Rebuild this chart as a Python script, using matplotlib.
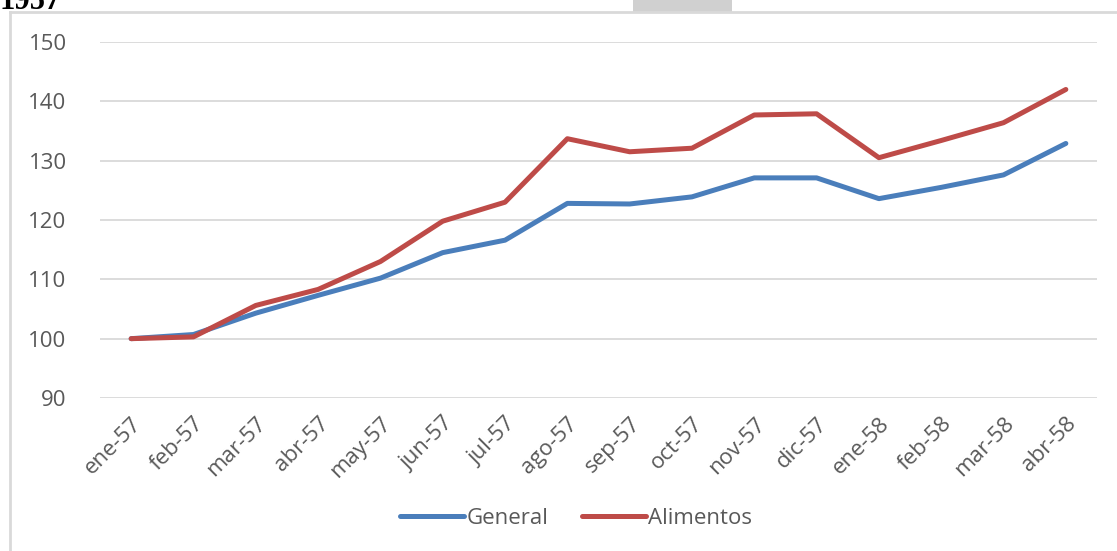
import matplotlib
matplotlib.use("Agg")
import matplotlib.pyplot as plt
from matplotlib.patches import Rectangle
from matplotlib.lines import Line2D

categories = ["ene-57", "feb-57", "mar-57", "abr-57", "may-57", "jun-57", "jul-57", "ago-57",
              "sep-57", "oct-57", "nov-57", "dic-57", "ene-58", "feb-58", "mar-58", "abr-58"]
general = [100.0, 100.7, 104.3, 107.3, 110.2, 114.5, 116.6, 122.8,
           122.7, 123.9, 127.1, 127.1, 123.6, 125.5, 127.6, 132.9]
alimentos = [100.0, 100.3, 105.6, 108.3, 113.0, 119.8, 123.0, 133.7,
             131.5, 132.1, 137.7, 137.9, 130.5, 133.4, 136.4, 142.0]
yticks = [90, 100, 110, 120, 130, 140, 150]

W, H = 1117, 551
fig = plt.figure(figsize=(W / 100, H / 100), dpi=100)
font = ["Open Sans", "DejaVu Sans"]

# outer chart frame
fig.add_artist(Line2D([10 / W, 1.0], [1 - 12 / H, 1 - 12 / H], transform=fig.transFigure,
                      color="#D9D9D9", lw=2))
fig.add_artist(Line2D([10 / W, 10 / W], [0, 1 - 12 / H], transform=fig.transFigure,
                      color="#D9D9D9", lw=2))
fig.add_artist(Rectangle((633 / W, 1 - 12 / H), 99 / W, 12 / H, transform=fig.transFigure,
                         facecolor="#D0D0D0", edgecolor="none"))
fig.text(0 / W, 1 - 9 / H, "1957", family="Liberation Serif", weight="bold", fontsize=22,
         color="black", va="baseline", ha="left")

ax = fig.add_axes([100 / W, 1 - 398 / H, 997 / W, 356 / H])
x = list(range(len(categories)))
ax.plot(x, general, color="#4A7EBB", lw=3.6, solid_capstyle="round", label="General")
ax.plot(x, alimentos, color="#BE4B48", lw=3.6, solid_capstyle="round", label="Alimentos")

ax.set_xlim(-0.5, len(categories) - 0.5)
ax.set_ylim(90, 150)
ax.set_yticks(yticks)
ax.set_yticklabels([str(v) for v in yticks], family=font, fontsize=16, color="#595959")
ax.set_xticks(x)
ax.set_xticklabels(categories, rotation=45, ha="right", rotation_mode="anchor",
                   family=font, fontsize=16, color="#595959")
ax.tick_params(axis="x", length=0, pad=11)
ax.tick_params(axis="y", length=0, pad=24)
ax.grid(axis="y", color="#D9D9D9", lw=1.3)
ax.set_axisbelow(True)
for s in ax.spines.values():
    s.set_visible(False)

leg = fig.legend(loc="center", bbox_to_anchor=(576 / W, 1 - 518 / H), ncol=2, frameon=False,
                 prop={"family": font, "size": 16}, handlelength=2.9, handletextpad=0.1,
                 columnspacing=1.5)
for t in leg.get_texts():
    t.set_color("#595959")

fig.savefig("out.png", dpi=100)
